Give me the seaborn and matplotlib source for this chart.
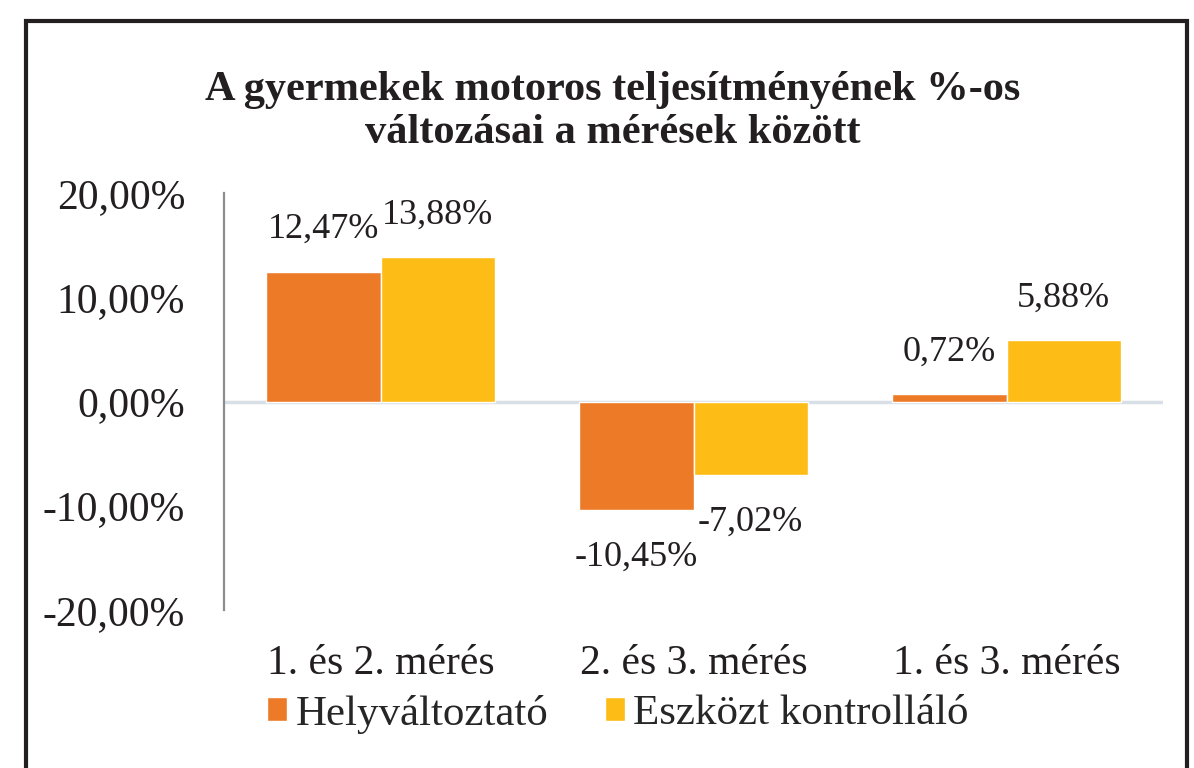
import pandas as pd
import numpy as np
import matplotlib
matplotlib.use("Agg")
import matplotlib.pyplot as plt
import seaborn as sns
from matplotlib.patches import Rectangle

categories = ["1. és 2. mérés", "2. és 3. mérés", "1. és 3. mérés"]
helyvaltoztato = [12.47, -10.45, 0.72]
eszkozt_kontrollalo = [13.88, -7.02, 5.88]
series_names = ["Helyváltoztató", "Eszközt kontrolláló"]
colors = ["#EC7A27", "#FDBD16"]

df = pd.DataFrame({
    "Mérés": categories * 2,
    "Érték": helyvaltoztato + eszkozt_kontrollalo,
    "Csoport": [series_names[0]] * 3 + [series_names[1]] * 3,
})

sns.set_style("white")
plt.rcParams["font.family"] = ["Liberation Serif", "DejaVu Serif"]

fig = plt.figure(figsize=(11.94, 7.68), dpi=100)
ax = fig.add_axes([224 / 1194, 1 - 610 / 768, (1163 - 224) / 1194, (610 - 193) / 768])

sns.barplot(data=df, x="Mérés", y="Érték", hue="Csoport", palette=colors,
            width=0.73, gap=0, saturation=1, ax=ax, legend=True)

ax.set_ylim(-20, 20)
ax.set_xlim(-0.5, 2.5)
ax.set_yticks([-20, -10, 0, 10, 20])
ax.set_yticklabels([f"{v:.2f}%".replace(".", ",") for v in [-20, -10, 0, 10, 20]])
ax.tick_params(axis="y", length=0, pad=28, labelsize=30)
ax.tick_params(axis="x", length=0, pad=25, labelsize=30)
ax.set_xlabel("")
ax.set_ylabel("")

for s in ["top", "right", "bottom"]:
    ax.spines[s].set_visible(False)
ax.spines["left"].set_color("#8C8C8C")
ax.spines["left"].set_linewidth(1.6)
ax.axhline(0, color="#D9DFE6", lw=2.5, zorder=0.5)

# data labels
for cont in ax.containers:
    for bar in cont:
        h = bar.get_height()
        x = bar.get_x() + bar.get_width() / 2
        off = 24 if h >= 0 else -40
        ax.annotate(f"{h:.2f}%".replace(".", ","), (x, h), xytext=(0, off),
                    textcoords="offset points", ha="center", va="baseline",
                    fontsize=26, color="#231F20")

handles, labels = ax.get_legend_handles_labels()
ax.get_legend().remove()
fig.legend(handles, labels, loc="center left", bbox_to_anchor=(267 / 1194, 1 - 714 / 768),
           ncol=2, frameon=False, fontsize=31, handlelength=0.47, handleheight=0.47,
           handletextpad=0.2, columnspacing=1.3, borderaxespad=0, borderpad=0)

fig.text(0.513, 0.855, "A gyermekek motoros teljesítményének %-os\nváltozásai a mérések között",
         ha="center", va="center", fontsize=30.5, fontweight="bold", linespacing=1.15,
         color="#231F20")

fig.patches.append(Rectangle((26 / 1194, -0.1), (1187 - 26) / 1194, 1.1 - 21 / 768,
                             transform=fig.transFigure, fill=False,
                             edgecolor="#231F20", lw=3, clip_on=False))

for t in ax.get_xticklabels() + ax.get_yticklabels():
    t.set_color("#231F20")

fig.savefig("out.png", dpi=100)
